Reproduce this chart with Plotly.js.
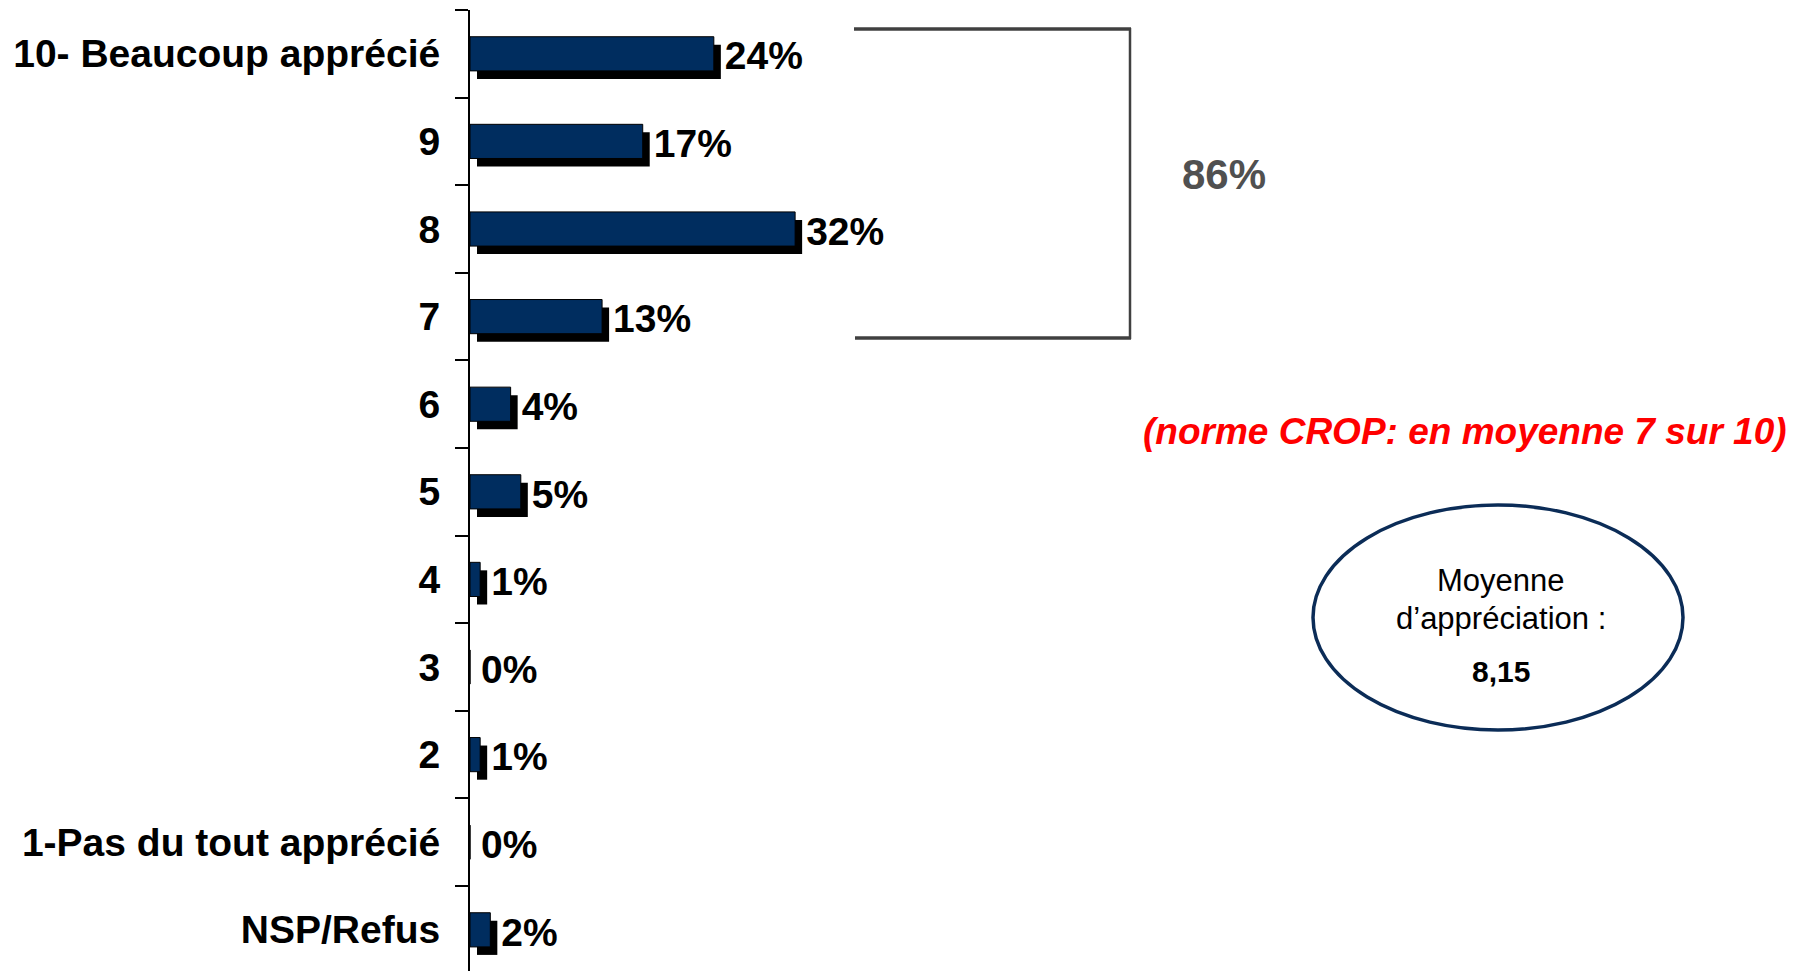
<!DOCTYPE html>
<html><head><meta charset="utf-8">
<script src="https://cdn.plot.ly/plotly-3.0.1.min.js"></script>
<style>html,body{margin:0;padding:0;background:#fff;}#chart{width:1810px;height:971px;}</style>
</head><body><div id="chart"></div>
<script>
// ---- data ----
const categories = ["10- Beaucoup apprécié","9","8","7","6","5","4","3","2","1-Pas du tout apprécié","NSP/Refus"];
const values = [24,17,32,13,4,5,1,0,1,0,2];
const valueLabels = values.map(v => v + "%");
const topBoxTotal = "86%";
const meanLines = ["Moyenne","d’appréciation :"];
const meanValue = "8,15";
const normNote = "(norme CROP: en moyenne 7 sur 10)";

// ---- layout helpers ----
const W = 1810, H = 971, L = 470, R = 324, T = 10, B = 0;
const PW = W - L - R, PH = H - T - B;
const px = x => (x - L) / PW;
const py = y => 1 - (y - T) / PH;
const FONT = "Liberation Sans, Arial, Helvetica, sans-serif";
const barW = 0.39, shadowDX = 0.69, shadowDY = 8 / 87.6;

const shadow = {
  type: "bar", orientation: "h", y: categories, x: values, base: shadowDX,
  width: barW, offset: -barW / 2 + shadowDY,
  marker: { color: "#000000", line: { width: 0 } }, hoverinfo: "skip", showlegend: false
};
const front = {
  type: "bar", orientation: "h", y: categories, x: values, base: 0,
  width: barW, offset: -barW / 2,
  marker: { color: "#002D5F", line: { color: "#000000", width: 1 } }, showlegend: false
};
const labels = {
  type: "bar", orientation: "h", y: categories, x: values, base: shadowDX + 0.1,
  width: barW, offset: -barW / 2 + 0.025,
  marker: { color: "rgba(0,0,0,0)", line: { width: 0 } },
  text: valueLabels, textposition: "outside", cliponaxis: false, constraintext: "none",
  textfont: { family: FONT, size: 39, color: "#000000", weight: "bold" },
  hoverinfo: "skip", showlegend: false
};

const lineColor = "#404040";
const layout = {
  width: W, height: H,
  margin: { l: L, r: R, t: T, b: B, pad: 0 },
  paper_bgcolor: "#ffffff", plot_bgcolor: "#ffffff",
  barmode: "overlay", showlegend: false,
  xaxis: { range: [0, 100], visible: false, fixedrange: true },
  yaxis: {
    type: "category", categoryorder: "array", categoryarray: categories,
    range: [10.47, -0.5],
    showline: true, linecolor: "#000000", linewidth: 2,
    ticks: "outside", ticklen: 13, tickwidth: 2, tickcolor: "#000000",
    tickson: "boundaries", ticklabelstandoff: 20,
    tickfont: { family: FONT, size: 39, color: "#000000", weight: "bold" },
    showgrid: false, zeroline: false, fixedrange: true
  },
  shapes: [
    { type: "line", xref: "paper", yref: "paper", x0: px(854), x1: px(1131), y0: py(29), y1: py(29), line: { color: lineColor, width: 3.5 } },
    { type: "line", xref: "paper", yref: "paper", x0: px(855), x1: px(1131), y0: py(338), y1: py(338), line: { color: lineColor, width: 3.5 } },
    { type: "line", xref: "paper", yref: "paper", x0: px(1130), x1: px(1130), y0: py(28), y1: py(339), line: { color: lineColor, width: 2.5 } },
    { type: "circle", xref: "paper", yref: "paper", x0: px(1313), x1: px(1683), y0: py(505), y1: py(730), line: { color: "#0B2C57", width: 3.5 }, fillcolor: "rgba(255,255,255,0)" }
  ],
  annotations: [
    { xref: "paper", yref: "paper", x: px(1224), y: py(175), text: topBoxTotal, showarrow: false, xanchor: "center", yanchor: "middle",
      font: { family: FONT, size: 42, color: "#505050", weight: "bold" } },
    { xref: "paper", yref: "paper", x: px(1465), y: py(431), text: normNote, showarrow: false, xanchor: "center", yanchor: "middle",
      font: { family: FONT, size: 37, color: "#FF0000", weight: "bold", style: "italic" } },
    { xref: "paper", yref: "paper", x: px(1501), y: py(580), text: meanLines[0], showarrow: false, xanchor: "center", yanchor: "middle",
      font: { family: FONT, size: 31, color: "#000000" } },
    { xref: "paper", yref: "paper", x: px(1501), y: py(618), text: meanLines[1], showarrow: false, xanchor: "center", yanchor: "middle",
      font: { family: FONT, size: 31, color: "#000000" } },
    { xref: "paper", yref: "paper", x: px(1501), y: py(671), text: meanValue, showarrow: false, xanchor: "center", yanchor: "middle",
      font: { family: FONT, size: 30, color: "#000000", weight: "bold" } }
  ]
};

Plotly.newPlot("chart", [shadow, front, labels], layout, { displayModeBar: false, staticPlot: true });
</script>
</body></html>
